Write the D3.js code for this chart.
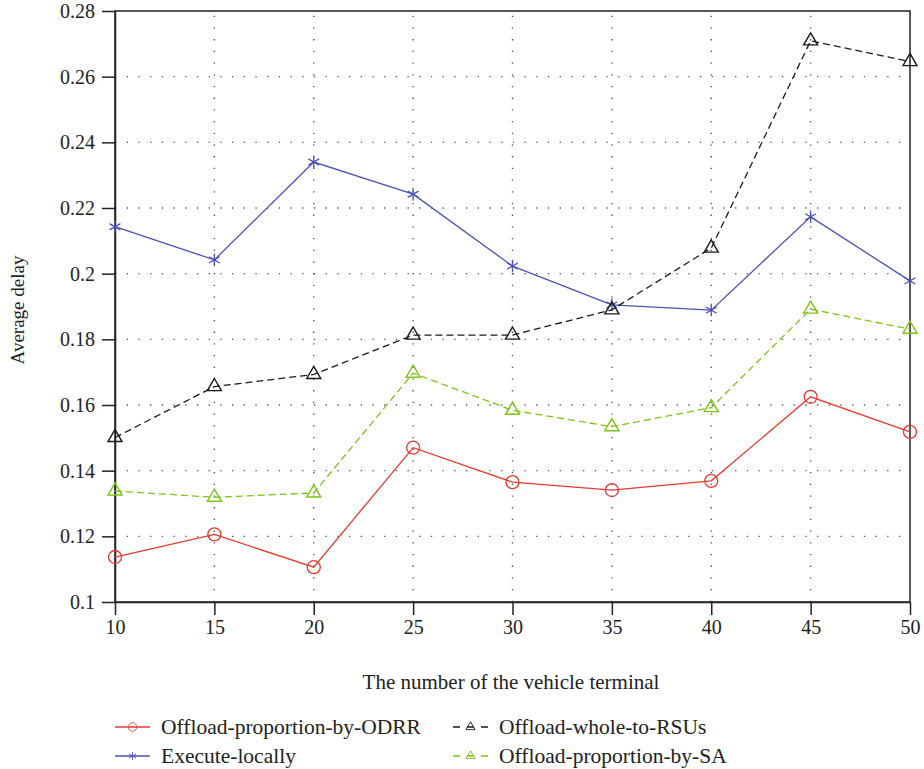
<!DOCTYPE html>
<html>
<head>
<meta charset="utf-8">
<script src="https://cdn.jsdelivr.net/npm/d3@7"></script>
<style>
  body { margin: 0; background: #fff; }
  text { font-family: "Liberation Serif", "DejaVu Serif", serif; fill: #222; }
</style>
</head>
<body>
<div id="chart"></div>
<script>
const terminals = [10, 15, 20, 25, 30, 35, 40, 45, 50];
const odrr = [0.1137, 0.1206, 0.1106, 0.1470, 0.1365, 0.1341, 0.1369, 0.1625, 0.1518];
const local = [0.2143, 0.2042, 0.2340, 0.2242, 0.2023, 0.1905, 0.1889, 0.2173, 0.1978];
const rsus = [0.1501, 0.1656, 0.1693, 0.1813, 0.1813, 0.1890, 0.2078, 0.2709, 0.2646];
const sa = [0.1338, 0.1319, 0.1332, 0.1697, 0.1584, 0.1534, 0.1592, 0.1892, 0.1831];
const yTicks = [0.1, 0.12, 0.14, 0.16, 0.18, 0.2, 0.22, 0.24, 0.26, 0.28];
const yTickLabels = ["0.1", "0.12", "0.14", "0.16", "0.18", "0.2", "0.22", "0.24", "0.26", "0.28"];
const seriesNames = ["Offload-proportion-by-ODRR", "Execute-locally", "Offload-whole-to-RSUs", "Offload-proportion-by-SA"];

const W = 924, H = 769;
const margin = {left: 115, right: 14, top: 11, bottom: 167};

const series = [
  {name: seriesNames[0], values: odrr, color: "#e63a2e", dash: null, symbol: "circle"},
  {name: seriesNames[1], values: local, color: "#4a52b3", dash: null, symbol: "star"},
  {name: seriesNames[2], values: rsus, color: "#1a1a1a", dash: "7,4", symbol: "tri"},
  {name: seriesNames[3], values: sa, color: "#7dc417", dash: "7,4", symbol: "tri"}
];

const svg = d3.select("#chart").append("svg").attr("width", W).attr("height", H);

const x = d3.scaleLinear().domain([10, 50]).range([margin.left, W - margin.right]);
const y = d3.scaleLinear().domain([0.1, 0.28]).range([H - margin.bottom, margin.top]);

// grid
const grid = svg.append("g").attr("stroke", "#555").attr("stroke-width", 1.4).attr("stroke-dasharray", "1.3,10.4");
grid.selectAll("line.gx").data(terminals.slice(1, -1)).join("line")
  .attr("x1", d => x(d)).attr("x2", d => x(d))
  .attr("y1", y(0.1)).attr("y2", y(0.28));
grid.selectAll("line.gy").data(yTicks.slice(1, -1)).join("line")
  .attr("x1", x(10)).attr("x2", x(50))
  .attr("y1", d => y(d)).attr("y2", d => y(d));

// frame
svg.append("rect")
  .attr("x", x(10)).attr("y", y(0.28))
  .attr("width", x(50) - x(10)).attr("height", y(0.1) - y(0.28))
  .attr("fill", "none").attr("stroke", "#222").attr("stroke-width", 1.5);

const xAxis = svg.append("g").attr("transform", `translate(0,${y(0.1)})`)
  .call(d3.axisBottom(x).tickValues(terminals).tickSize(13).tickSizeOuter(0).tickFormat(d3.format("d")));
const yAxis = svg.append("g").attr("transform", `translate(${x(10)},0)`)
  .call(d3.axisLeft(y).tickValues(yTicks).tickSize(13).tickSizeOuter(0).tickFormat((d, i) => yTickLabels[i]));

[xAxis, yAxis].forEach(a => {
  a.select(".domain").attr("stroke", "#222").attr("stroke-width", 1.5);
  a.selectAll(".tick line").attr("stroke", "#222").attr("stroke-width", 1.5);
  a.selectAll(".tick text").attr("font-size", 20).attr("font-family", "Liberation Serif").attr("fill", "#222");
});
xAxis.selectAll(".tick text").attr("dy", "0.95em").attr("y", 13);
yAxis.selectAll(".tick text").attr("x", -20);

svg.append("text").attr("x", 511).attr("y", 689).attr("text-anchor", "middle")
  .attr("font-size", 21).text("The number of the vehicle terminal");
svg.append("text").attr("transform", "translate(24,310) rotate(-90)").attr("text-anchor", "middle")
  .attr("font-size", 19).text("Average delay");

function drawMarker(g, kind, color) {
  if (kind === "circle") {
    g.append("circle").attr("r", 6.5).attr("fill", "none").attr("stroke", color).attr("stroke-width", 1.3);
  } else if (kind === "star") {
    g.append("path").attr("d", d3.symbol(d3.symbolAsterisk, 110)())
      .attr("fill", "none").attr("stroke", color).attr("stroke-width", 1.3);
  } else {
    g.append("path").attr("d", d3.symbol(d3.symbolTriangle, 85)())
      .attr("fill", "none").attr("stroke", color).attr("stroke-width", 1.4);
  }
}

const line = d3.line().x((d, i) => x(terminals[i])).y(d => y(d));

series.forEach(s => {
  svg.append("path").datum(s.values).attr("d", line)
    .attr("fill", "none").attr("stroke", s.color).attr("stroke-width", 1.3)
    .attr("stroke-dasharray", s.dash);
  svg.append("g").selectAll("g").data(s.values).join("g")
    .attr("transform", (d, i) => `translate(${x(terminals[i])},${y(d)})`)
    .each(function() { drawMarker(d3.select(this), s.symbol, s.color); });
});

// legend
const legPos = [[115, 727], [115, 756], [453, 727], [453, 756]];
series.forEach((s, i) => {
  const [lx, ly] = legPos[i];
  const g = svg.append("g").attr("transform", `translate(${lx},${ly})`);
  g.append("line").attr("x1", 0).attr("x2", 35).attr("stroke", s.color).attr("stroke-width", 1.3)
    .attr("stroke-dasharray", s.dash ? "7,7" : null);
  const m = g.append("g").attr("transform", "translate(17.5,0) scale(0.65)");
  drawMarker(m, s.symbol, s.color);
  g.append("text").attr("x", 46).attr("y", 7).attr("font-size", 21.5).text(s.name);
});
</script>
</body>
</html>
